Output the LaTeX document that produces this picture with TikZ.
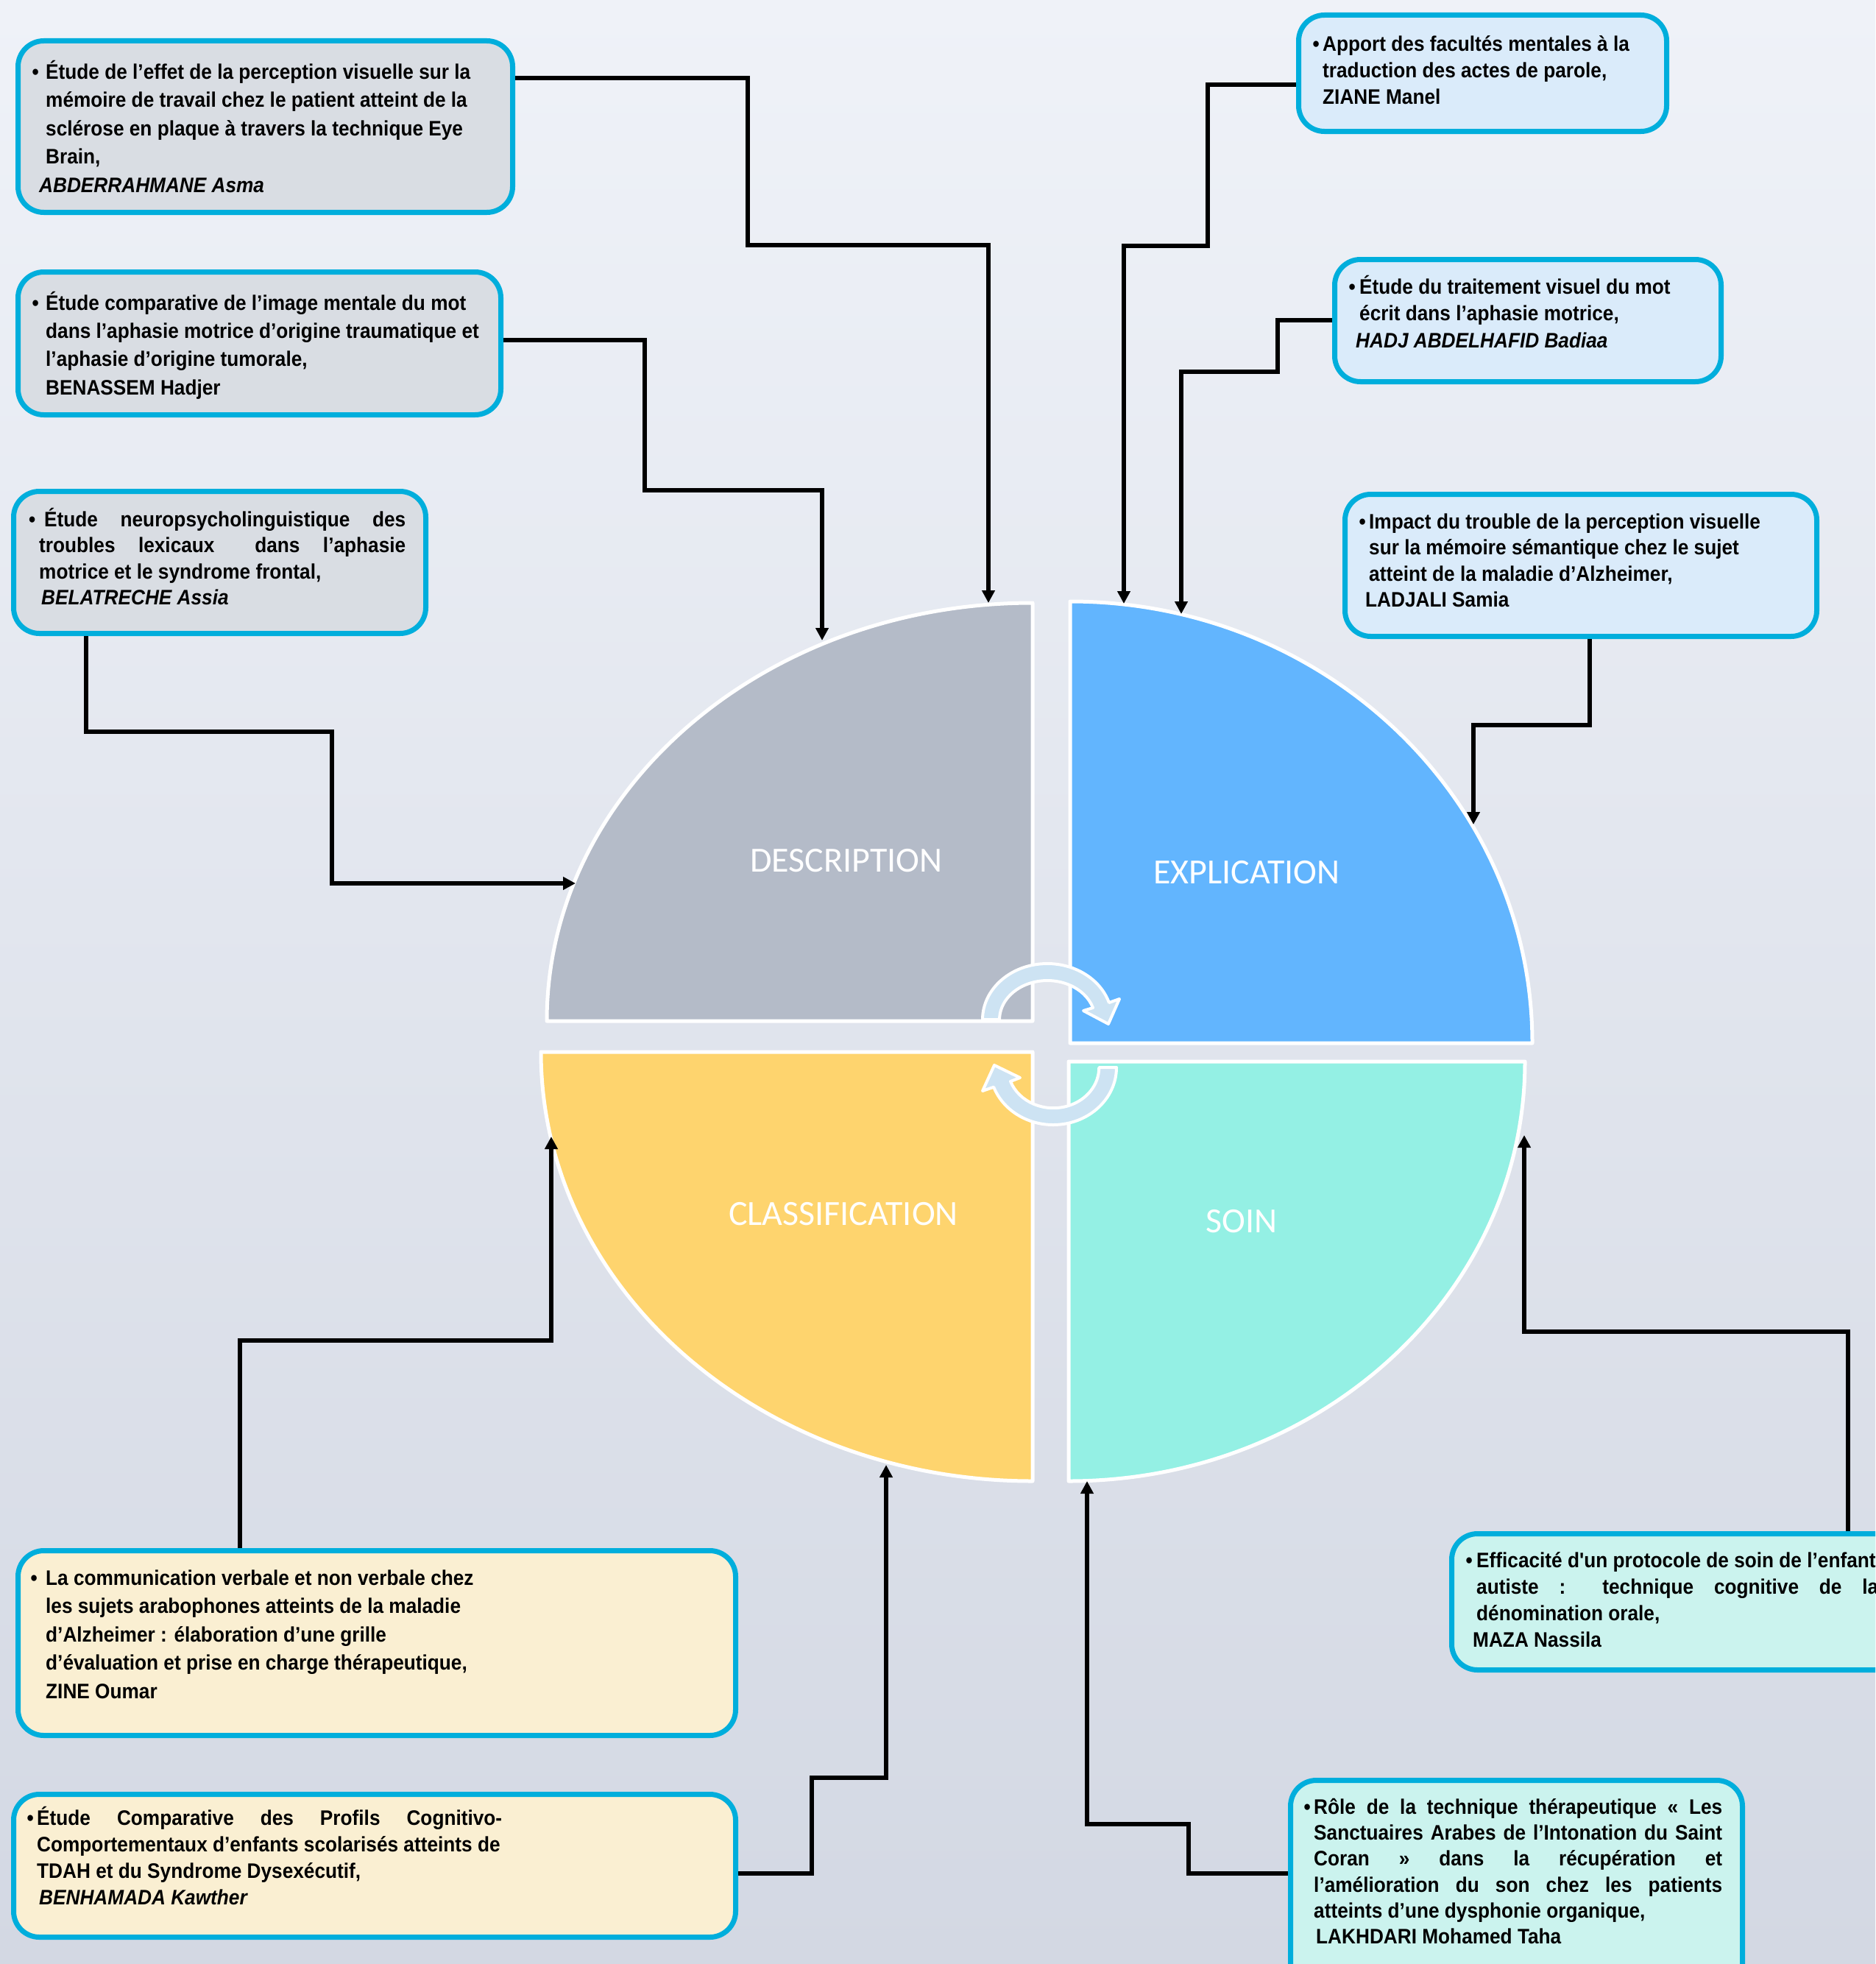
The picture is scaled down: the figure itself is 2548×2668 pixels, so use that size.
\documentclass[tikz,border=0pt]{standalone}
\usepackage{fontspec}
\setmainfont{Liberation Sans}
\newfontfamily\boxfont{Liberation Sans}[FakeStretch=0.92]
\newfontfamily\quadfont{Carlito}
\usetikzlibrary{arrows.meta}

\definecolor{bgtop}{HTML}{EFF2F8}
\definecolor{bgbot}{HTML}{D3D8E3}
\definecolor{framecyan}{HTML}{00AEDC}
\definecolor{grayfill}{HTML}{D9DDE3}
\definecolor{bluefill}{HTML}{DAEBFA}
\definecolor{creamfill}{HTML}{FAEFD2}
\definecolor{tealfill}{HTML}{CBF3EE}
\definecolor{descr}{HTML}{B4BBC8}
\definecolor{expl}{HTML}{62B5FE}
\definecolor{classif}{HTML}{FED46E}
\definecolor{soin}{HTML}{94F0E4}
\definecolor{cyclearrow}{HTML}{CDE3F3}

\newcommand{\jline}[2]{\hbox to #1pt{\spaceskip=0.28em plus 1fil\relax #2}}
\newcommand{\fl}{\rule{0pt}{30pt}}
\newcommand{\bul}[1][4.5pt]{\llap{\textbullet\kern#1}}

\tikzset{
  box/.style={draw=framecyan, line width=7pt, rounded corners=35pt, inner sep=0pt, anchor=north west},
  txt/.style={anchor=north west, inner sep=0pt, align=left, font=\boxfont\bfseries\fontsize{28.5}{#1}\selectfont},
  quad/.style={draw=white, line width=5pt, line join=round},
  quadlabel/.style={text=white, font=\quadfont\fontsize{48}{58}\selectfont},
  cyc/.style={fill=cyclearrow, draw=white, line width=4pt, line join=round},
  link/.style={line width=5.5pt, -{Triangle[length=17pt,width=17pt]}},
}

\begin{document}
\begin{tikzpicture}[x=1pt,y=-1pt]

\useasboundingbox (0,0) rectangle (2548,2668);
\clip (0,0) rectangle (2548,2668);
\shade[top color=bgtop, bottom color=bgbot] (0,0) rectangle (2548,2668);

\draw[quad, fill=descr] (1403,1387) -- (1403,819) arc[start angle=-90, end angle=-180, x radius=660, y radius=568] -- cycle;
\draw[quad, fill=expl] (1454,1417) -- (1454,817) arc[start angle=-90, end angle=0, x radius=628, y radius=600] -- cycle;
\draw[quad, fill=classif] (1403,1429) -- (735,1429) arc[start angle=180, end angle=90, x radius=668, y radius=583] -- cycle;
\draw[quad, fill=soin] (1452,1442) -- (2072,1442) arc[start angle=0, end angle=90, x radius=620, y radius=570] -- cycle;

\node[quadlabel] (lDesc) at (1150,1169) {DESCRIPTION};
\node[quadlabel] (lExpl) at (1694,1185) {EXPLICATION};
\node[quadlabel] (lClass) at (1146,1649) {CLASSIFICATION};
\node[quadlabel] (lSoin) at (1687,1659) {SOIN};

\draw[cyc] (1335,1385) arc[start angle=-180, end angle=-17.6, x radius=88, y radius=76]
  -- (1521,1357) -- (1506,1391) -- (1472,1373) -- (1485,1369)
  arc[start angle=-17.6, end angle=-180, x radius=65, y radius=53] -- cycle;
\draw[cyc] (1517,1450) arc[start angle=0, end angle=160, x radius=86, y radius=78]
  -- (1335,1482) -- (1351,1447) -- (1386,1464) -- (1373,1469)
  arc[start angle=160, end angle=0, x radius=62, y radius=55] -- cycle;

\coordinate (tipA) at (1343,819);
\coordinate (tipB) at (1117,870);
\coordinate (tipC) at (782,1200);
\coordinate (tipD) at (1527,820);
\coordinate (tipE) at (1605,834);
\coordinate (tipF) at (2002,1120);
\coordinate (tipG) at (749,1544);
\coordinate (tipH) at (1204,1990);
\coordinate (tipI) at (2071,1542);
\coordinate (tipJ) at (1477,2012);

\node[box, fill=grayfill, minimum width=672, minimum height=233] (boxA) at (21,52) {};
\node[box, fill=grayfill, minimum width=656, minimum height=194] (boxB) at (21,366) {};
\node[box, fill=grayfill, minimum width=560, minimum height=193] (boxC) at (15,664) {};
\node[box, fill=bluefill, minimum width=500, minimum height=158] (boxD) at (1761,17) {};
\node[box, fill=bluefill, minimum width=525, minimum height=166] (boxE) at (1810,349) {};
\node[box, fill=bluefill, minimum width=641, minimum height=193] (boxF) at (1824,668) {};
\node[box, fill=creamfill, minimum width=975, minimum height=251] (boxG) at (21,2103) {};
\node[box, fill=creamfill, minimum width=981, minimum height=194] (boxH) at (15,2434) {};
\node[box, fill=tealfill, minimum width=631, minimum height=185] (boxI) at (1969,2080) {};
\node[box, fill=tealfill, minimum width=614, minimum height=310] (boxJ) at (1750,2415) {};

\draw[link] (boxA.east |- 0,106) -| (1016,333) -| (tipA);
\draw[link] (boxB.east |- 0,462) -| (876,666) -| (tipB);
\draw[link] (boxC.south -| 117,0) |- (451,994) |- (tipC);
\draw[link] (boxD.west |- 0,115) -| (1641,334) -| (tipD);
\draw[link] (boxE.west |- 0,435) -| (1736,505) -| (tipE);
\draw[link] (boxF.south -| 2160,0) |- (2002,985) -- (tipF);
\draw[link] (boxG.north -| 326,0) |- (749,1821) -- (tipG);
\draw[link] (boxH.east |- 0,2545) -| (1103,2415) -| (tipH);
\draw[link] (boxI.north -| 2511,0) |- (2071,1809) -- (tipI);
\draw[link] (boxJ.west |- 0,2545) -| (1615,2478) -| (tipJ);

\node[txt=38.5] (textA) at (62,77) {\fl\bul[9.5pt]Étude de l’effet de la perception visuelle sur la\\
  mémoire de travail chez le patient atteint de la\\
  sclérose en plaque à travers la technique Eye\\
  Brain,\\
  \hspace*{-9pt}{\itshape ABDERRAHMANE Asma}};
\node[txt=38.3] (textB) at (62,391) {\fl\bul[9.5pt]Étude comparative de l’image mentale du mot\\
  dans l’aphasie motrice d’origine traumatique et\\
  l’aphasie d’origine tumorale,\\
  BENASSEM Hadjer};
\node[txt=35.5] (textC) at (53,685) {\fl\bul[5pt]\hspace*{7pt}\jline{491}{Étude neuropsycholinguistique des}\\
  \jline{498}{troubles lexicaux \hskip0pt plus 1fil dans l’aphasie}\\
  motrice et le syndrome frontal,\\
  \hspace*{3pt}{\itshape BELATRECHE Assia}};
\node[txt=36] (textD) at (1797,39) {\fl\bul Apport des facultés mentales à la\\
  traduction des actes de parole,\\
  ZIANE Manel};
\node[txt=36.5] (textE) at (1847,369) {\fl\bul[5.5pt]Étude du traitement visuel du mot\\
  écrit dans l’aphasie motrice,\\
  \hspace*{-5pt}{\itshape HADJ ABDELHAFID Badiaa}};
\node[txt=35.5] (textF) at (1860,688) {\fl\bul Impact du trouble de la perception visuelle\\
  sur la mémoire sémantique chez le sujet\\
  atteint de la maladie d’Alzheimer,\\
  \hspace*{-5pt}LADJALI Samia};
\node[txt=38.5] (textG) at (62,2123) {\fl\bul[11.5pt]La communication verbale et non verbale chez\\
  les sujets arabophones atteints de la maladie\\
  d’Alzheimer : élaboration d’une grille\\
  d’évaluation et prise en charge thérapeutique,\\
  ZINE Oumar};
\node[txt=36] (textH) at (50,2449) {\fl\bul\jline{632}{Étude Comparative des Profils Cognitivo-}\\
  Comportementaux d’enfants scolarisés atteints de\\
  TDAH et du Syndrome Dysexécutif,\\
  \hspace*{3pt}{\itshape BENHAMADA Kawther}};
\node[txt=36] (textI) at (2006,2099) {\fl\bul[5.5pt]Efficacité d'un protocole de soin de l’enfant\\
  \jline{546}{autiste : technique cognitive de la}\\
  dénomination orale,\\
  \hspace*{-5pt}MAZA Nassila};
\node[txt=35.3] (textJ) at (1785,2434) {\fl\bul\jline{555}{Rôle de la technique thérapeutique « Les}\\
  \jline{555}{Sanctuaires Arabes de l’Intonation du Saint}\\
  \jline{555}{Coran » dans la récupération et}\\
  \jline{555}{l’amélioration du son chez les patients}\\
  atteints d’une dysphonie organique,\\
  \hspace*{3pt}LAKHDARI Mohamed Taha};

\end{tikzpicture}
\end{document}
